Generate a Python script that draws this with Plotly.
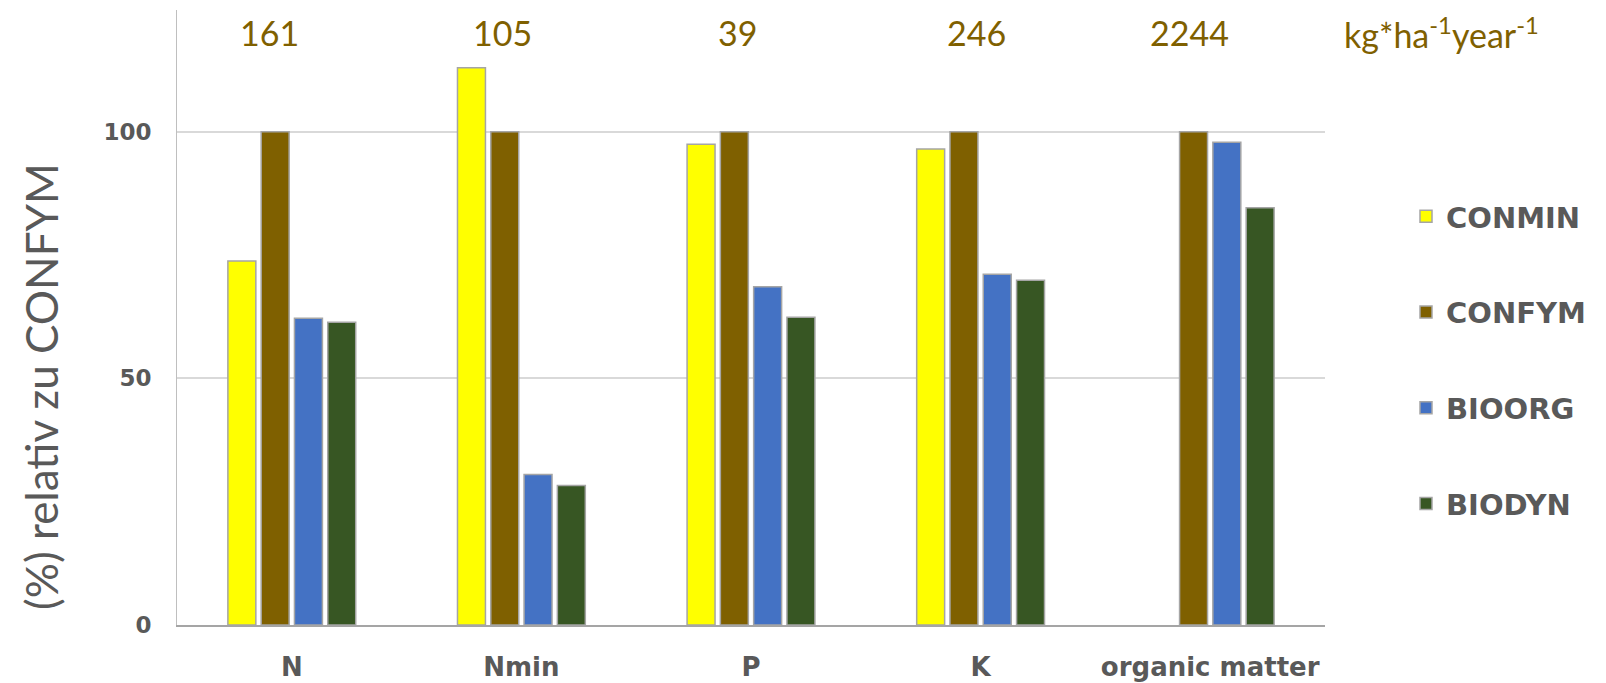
import plotly.graph_objects as go

categories = ["N", "Nmin", "P", "K", "organic matter"]
conmin = [73.8, 113.0, 97.5, 96.5, None]
confym = [100, 100, 100, 100, 100]
bioorg = [62.2, 30.5, 68.6, 71.1, 97.9]
biodyn = [61.4, 28.3, 62.4, 69.9, 84.6]
series_names = ["CONMIN", "CONFYM", "BIOORG", "BIODYN"]
series_colors = ["#FFFF00", "#7F6000", "#4472C4", "#375623"]
abs_values = ["161", "105", "39", "246", "2244"]
unit_label = "kg*ha<sup>-1</sup>year<sup>-1</sup>"
y_title = "(%) relativ zu CONFYM"

W, H = 1606, 683
OFF = 8  # page body margin
X0, X1, Y0, Y1 = 177, 1325, 10, 625
L = X0 - OFF
R = W + OFF - X1
T = Y0 - OFF
B = H + OFF - Y1
pw = X1 - X0
ph = Y1 - Y0

def px_to_paper_x(px):
    return (px - X0) / pw

def px_to_paper_y(py):
    return (Y1 - py) / ph

fig = go.Figure()
for name, vals, col in zip(series_names, [conmin, confym, bioorg, biodyn], series_colors):
    fig.add_trace(go.Bar(
        x=categories, y=vals, name=name, legendgroup=name,
        marker=dict(color=col, line=dict(color="#A5A5A5", width=1.5)),
    ))

label_px = [269, 502, 737, 976, 1189, 1441]
texts = abs_values + [unit_label]
ann = []
for px, t in zip(label_px, texts):
    ann.append(dict(
        x=px_to_paper_x(px), xref="paper", y=px_to_paper_y(33), yref="paper",
        text=t, showarrow=False, xanchor="center", yanchor="middle",
        font=dict(family="Lato, sans-serif", size=34, color="#7F6000"),
    ))
ann.append(dict(
    x=px_to_paper_x(41), xref="paper", y=px_to_paper_y(387), yref="paper",
    text=y_title, showarrow=False, textangle=-90,
    xanchor="center", yanchor="middle",
    font=dict(family="Lato, sans-serif", size=44, color="#595959"),
))

fig.update_layout(
    width=W, height=H,
    margin=dict(l=L, r=R, t=T, b=B, autoexpand=False),
    paper_bgcolor="white", plot_bgcolor="white",
    barmode="group", bargap=0.42, bargroupgap=0.16,
    annotations=ann,
    legend=dict(
        x=px_to_paper_x(1406), xanchor="left",
        y=px_to_paper_y(191), yanchor="top",
        font=dict(family="DejaVu Sans", size=29, color="#595959", weight="bold"),
        tracegroupgap=55, bgcolor="rgba(0,0,0,0)",
    ),
    showlegend=True,
)
fig.update_xaxes(
    showline=True, linecolor="#A5A5A5", linewidth=1.5,
    ticks="", ticklabelstandoff=18,
    tickfont=dict(family="DejaVu Sans", size=26, color="#595959", weight="bold"),
)
fig.update_yaxes(
    range=[0, 124.7], tickvals=[0, 50, 100],
    showgrid=True, gridcolor="#D9D9D9", gridwidth=1.5,
    showline=True, linecolor="#BFBFBF", linewidth=1,
    zeroline=False, ticks="", ticklabelstandoff=20,
    tickfont=dict(family="DejaVu Sans", size=23, color="#595959", weight="bold"),
)
fig.write_html("out.html")
